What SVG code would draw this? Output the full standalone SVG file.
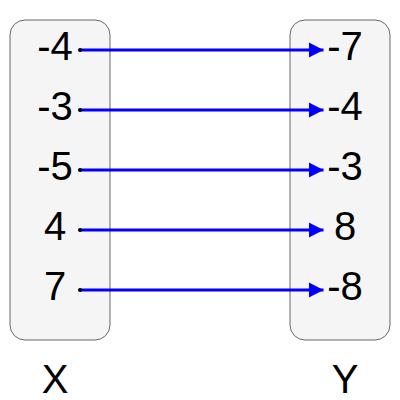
<svg xmlns="http://www.w3.org/2000/svg" width="400" height="400" viewBox="0 0 400 400">
<style>
.box{fill:#f5f5f5;stroke:#666666;stroke-width:1}
.t{font-family:"Liberation Sans",Arial,sans-serif;font-size:40px;fill:#000000;text-anchor:middle}
.edge{stroke:#0000ff;stroke-width:3;fill:none}
</style>
<defs>
<marker id="ah" markerUnits="userSpaceOnUse" markerWidth="16" markerHeight="16" refX="14.5" refY="8" orient="auto" viewBox="0 0 16 16">
<path d="M0,0.5 L14.5,8 L0,15.5 Z" fill="#0000ff"/>
</marker>
</defs>
<g id="setX">
<rect class="box" x="10" y="20" width="100" height="320" rx="15" ry="15"/>
<text class="t" x="55" y="60">-4</text>
<text class="t" x="55" y="120">-3</text>
<text class="t" x="55" y="180">-5</text>
<text class="t" x="55" y="240">4</text>
<text class="t" x="55" y="300">7</text>
</g>
<g id="setY">
<rect class="box" x="290" y="20" width="100" height="320" rx="15" ry="15"/>
<text class="t" x="345" y="60">-7</text>
<text class="t" x="345" y="120">-4</text>
<text class="t" x="345" y="180">-3</text>
<text class="t" x="345" y="240">8</text>
<text class="t" x="345" y="300">-8</text>
</g>
<g id="labelX"><text class="t" x="55" y="393">X</text></g>
<g id="labelY"><text class="t" x="345" y="393">Y</text></g>
<g id="connectors">
<path class="edge" d="M80,50 H323.5" marker-end="url(#ah)"/>
<path class="edge" d="M80,110 H323.5" marker-end="url(#ah)"/>
<path class="edge" d="M80,170 H323.5" marker-end="url(#ah)"/>
<path class="edge" d="M80,230 H323.5" marker-end="url(#ah)"/>
<path class="edge" d="M80,290 H323.5" marker-end="url(#ah)"/>
<circle cx="80" cy="50" r="2" fill="#000"/>
<circle cx="80" cy="110" r="2" fill="#000"/>
<circle cx="80" cy="170" r="2" fill="#000"/>
<circle cx="80" cy="230" r="2" fill="#000"/>
<circle cx="80" cy="290" r="2" fill="#000"/>
</g>
</svg>
